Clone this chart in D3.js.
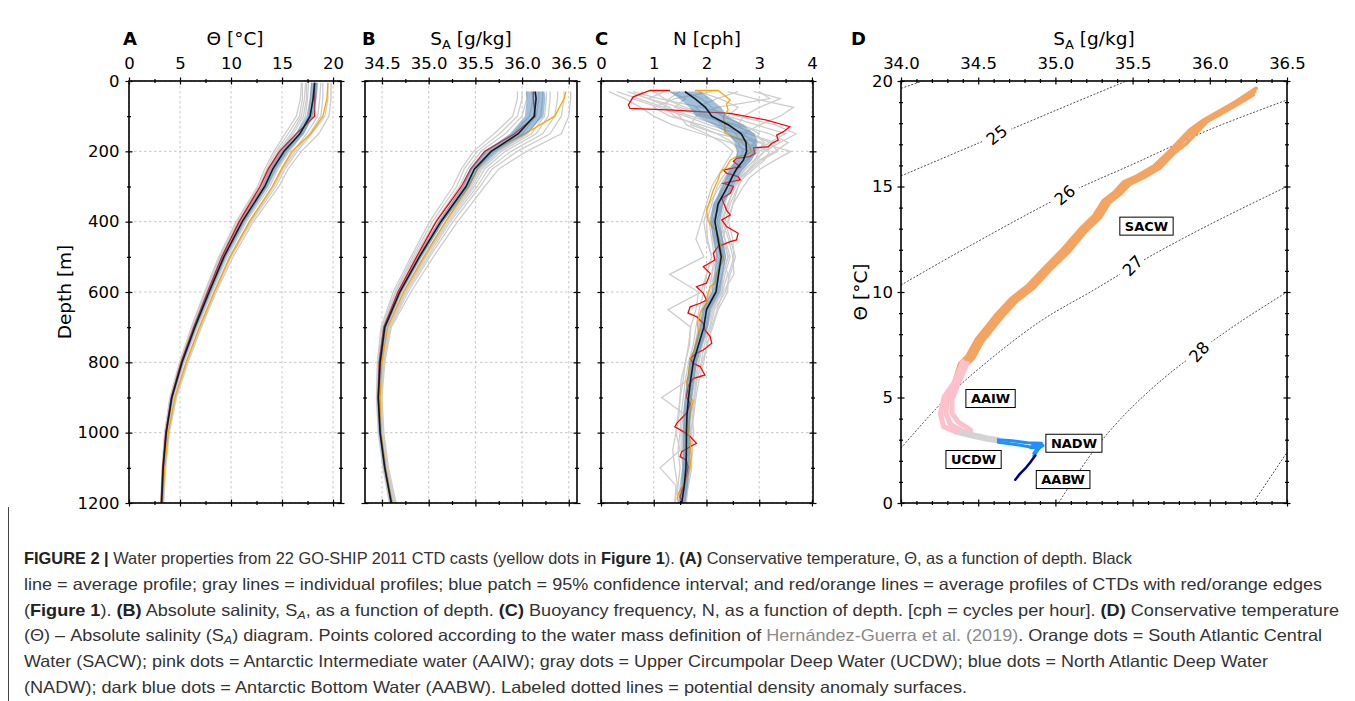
<!DOCTYPE html>
<html>
<head>
<meta charset="utf-8">
<script src="https://cdn.jsdelivr.net/npm/d3@7"></script>
<style>
	body { margin: 0; background: #fff; }
	svg text { font-family: "DejaVu Sans", sans-serif; }
</style>
</head>
<body>
<svg id="figure" width="1355" height="701"></svg>
<script>
// ---------- shared depth ticks ----------
var depthTicks = [0, 200, 400, 600, 800, 1000, 1200];
var depthMinor = [100, 300, 500, 700, 900, 1100];

// ---------- A: conservative temperature [°C] ----------
var thetaTicks = [0, 5, 10, 15, 20];
var thetaMinor = [2.5, 7.5, 12.5, 17.5];
var depthA = [5, 50, 100, 150, 200, 250, 300, 400, 500, 600, 700, 800, 900, 1000, 1100, 1200];
var thetaMean = [18.2, 18.05, 17.75, 16.75, 15.2, 14.1, 13.3, 11.1, 9.3, 7.85, 6.45, 5.2, 4.2, 3.65, 3.35, 3.2];
var thetaCI = [0.35, 0.35, 0.35, 0.4, 0.4, 0.35, 0.3, 0.25, 0.22, 0.2, 0.18, 0.15, 0.12, 0.1, 0.1, 0.1];
var thetaRed = [18.2, 18.2, 18.2, 16.4, 14.75, 13.65, 12.85, 10.8, 9.1, 7.7, 6.35, 5.1, 4.15, 3.6, 3.3, 3.15];
var thetaOrange = [19.5, 19.4, 19.0, 17.8, 15.95, 14.95, 14.05, 11.8, 9.9, 8.35, 6.9, 5.6, 4.5, 3.85, 3.5, 3.3];
var thetaCasts = [
	[16.9, 16.8, 16.4, 15.3, 14.2, 13.3, 12.6, 10.5, 8.8, 7.4, 6.1, 4.95, 4.0, 3.5, 3.25, 3.1],
	[17.3, 17.2, 16.9, 15.9, 14.6, 13.7, 12.9, 10.8, 9.0, 7.6, 6.25, 5.05, 4.1, 3.55, 3.3, 3.15],
	[17.6, 17.5, 17.3, 16.4, 15.0, 13.9, 13.1, 11.0, 9.2, 7.75, 6.35, 5.15, 4.15, 3.6, 3.3, 3.15],
	[17.9, 17.8, 17.6, 16.8, 15.4, 14.3, 13.5, 11.3, 9.45, 8.0, 6.55, 5.3, 4.3, 3.7, 3.4, 3.2],
	[18.4, 18.3, 17.9, 17.1, 15.7, 14.6, 13.8, 11.5, 9.65, 8.15, 6.7, 5.4, 4.35, 3.75, 3.45, 3.25],
	[18.8, 18.7, 18.5, 17.4, 16.1, 15.0, 14.1, 11.8, 9.85, 8.35, 6.9, 5.6, 4.5, 3.8, 3.5, 3.3],
	[19.5, 19.5, 19.2, 17.9, 16.5, 15.3, 14.4, 12.0, 10.0, 8.45, 7.0, 5.7, 4.6, 3.9, 3.55, 3.35],
	[19.8, 19.8, 19.6, 18.6, 16.9, 15.6, 14.7, 12.2, 10.2, 8.55, 7.1, 5.8, 4.65, 3.95, 3.6, 3.4],
	[17.0, 17.0, 16.7, 15.6, 14.4, 13.5, 12.75, 10.65, 8.9, 7.5, 6.2, 5.0, 4.05, 3.5, 3.28, 3.12],
	[18.1, 18.0, 17.8, 17.0, 15.6, 14.5, 13.6, 11.4, 9.5, 8.1, 6.6, 5.35, 4.3, 3.72, 3.42, 3.22],
	[19.0, 19.0, 18.8, 17.7, 16.3, 15.1, 14.2, 11.9, 9.95, 8.4, 6.95, 5.65, 4.55, 3.85, 3.52, 3.32],
	[17.4, 17.4, 17.1, 16.1, 14.8, 13.8, 13.0, 10.9, 9.1, 7.65, 6.3, 5.1, 4.12, 3.58, 3.3, 3.14]
];

// ---------- B: absolute salinity [g/kg] ----------
var saltTicks = [34.5, 35.0, 35.5, 36.0, 36.5];
var saltMinor = [34.75, 35.25, 35.75, 36.25];
var depthB = [30, 50, 100, 150, 200, 250, 300, 400, 500, 600, 700, 800, 900, 1000, 1100, 1200];
var saltMean = [36.14, 36.15, 36.13, 35.96, 35.67, 35.49, 35.40, 35.13, 34.90, 34.69, 34.53, 34.48, 34.46, 34.48, 34.53, 34.60];
var saltCI = [0.1, 0.1, 0.1, 0.09, 0.07, 0.05, 0.04, 0.03, 0.025, 0.02, 0.02, 0.015, 0.015, 0.015, 0.015, 0.015];
var saltRed = [36.12, 36.12, 36.14, 35.92, 35.60, 35.45, 35.35, 35.08, 34.87, 34.67, 34.52, 34.47, 34.46, 34.48, 34.53, 34.60];
var saltOrange = [36.47, 36.45, 36.35, 36.03, 35.66, 35.52, 35.43, 35.18, 34.95, 34.73, 34.56, 34.50, 34.48, 34.49, 34.54, 34.61];
var saltCasts = [
	[35.95, 35.95, 35.90, 35.70, 35.48, 35.35, 35.26, 35.01, 34.81, 34.62, 34.49, 34.45, 34.44, 34.46, 34.51, 34.58],
	[36.05, 36.05, 36.00, 35.82, 35.56, 35.42, 35.33, 35.07, 34.85, 34.65, 34.51, 34.46, 34.45, 34.47, 34.52, 34.59],
	[36.10, 36.12, 36.08, 35.90, 35.62, 35.46, 35.37, 35.11, 34.88, 34.68, 34.52, 34.47, 34.46, 34.48, 34.53, 34.60],
	[36.18, 36.18, 36.15, 36.00, 35.70, 35.52, 35.42, 35.15, 34.92, 34.71, 34.54, 34.49, 34.47, 34.49, 34.54, 34.61],
	[36.22, 36.22, 36.20, 36.06, 35.75, 35.55, 35.45, 35.18, 34.94, 34.73, 34.56, 34.50, 34.47, 34.49, 34.54, 34.62],
	[36.30, 36.30, 36.28, 36.15, 35.82, 35.60, 35.49, 35.21, 34.97, 34.75, 34.57, 34.51, 34.48, 34.50, 34.55, 34.63],
	[36.45, 36.45, 36.42, 36.30, 35.95, 35.68, 35.55, 35.26, 35.01, 34.78, 34.59, 34.52, 34.49, 34.51, 34.56, 34.64],
	[36.52, 36.52, 36.50, 36.42, 36.05, 35.75, 35.60, 35.31, 35.05, 34.81, 34.60, 34.53, 34.50, 34.52, 34.57, 34.65],
	[36.00, 36.00, 35.95, 35.76, 35.52, 35.38, 35.30, 35.04, 34.83, 34.64, 34.50, 34.455, 34.445, 34.465, 34.515, 34.585],
	[36.14, 36.15, 36.12, 35.95, 35.66, 35.49, 35.40, 35.13, 34.90, 34.70, 34.53, 34.48, 34.46, 34.48, 34.535, 34.605],
	[36.38, 36.38, 36.35, 36.22, 35.88, 35.64, 35.52, 35.23, 34.99, 34.76, 34.58, 34.515, 34.485, 34.505, 34.555, 34.635],
	[36.26, 36.26, 36.24, 36.10, 35.78, 35.57, 35.47, 35.19, 34.96, 34.74, 34.56, 34.50, 34.475, 34.495, 34.545, 34.62]
];

// ---------- C: buoyancy frequency [cph] ----------
var nTicks = [0, 1, 2, 3, 4];
var nMinor = [0.5, 1.5, 2.5, 3.5];
var depthN = [30, 50, 75, 100, 125, 150, 175, 200, 225, 250, 275, 300, 350, 400, 450, 500, 550, 600, 650, 700, 750, 800, 850, 900, 950, 1000, 1050, 1100, 1150, 1200];
var nMean = [1.59, 1.78, 1.98, 2.10, 2.42, 2.66, 2.75, 2.76, 2.70, 2.57, 2.48, 2.40, 2.22, 2.16, 2.22, 2.28, 2.23, 2.18, 2.00, 1.95, 1.85, 1.75, 1.70, 1.66, 1.63, 1.62, 1.62, 1.61, 1.58, 1.53];
var nCI = [0.3, 0.3, 0.3, 0.3, 0.28, 0.25, 0.22, 0.18, 0.15, 0.13, 0.12, 0.1, 0.1, 0.09, 0.09, 0.09, 0.08, 0.08, 0.08, 0.08, 0.07, 0.07, 0.07, 0.07, 0.07, 0.07, 0.07, 0.07, 0.07, 0.07];
// [depth, N]
var nRed = [[27, 1.31], [27, 0.93], [45, 0.61], [68, 0.52], [78, 0.55], [83, 1.37], [92, 2.45], [111, 3.14], [130, 3.58], [144, 3.46], [154, 3.33], [168, 3.36], [177, 3.24], [187, 3.17], [190, 2.89], [206, 2.92], [215, 2.82], [220, 2.57], [229, 2.51], [244, 2.64], [253, 2.32], [262, 2.38], [272, 2.60], [281, 2.64], [291, 2.32], [300, 2.51], [319, 2.45], [334, 2.29], [367, 2.38], [381, 2.45], [395, 2.29], [414, 2.38], [433, 2.60], [452, 2.57], [457, 2.45], [471, 2.22], [490, 2.13], [509, 2.16], [528, 1.94], [547, 2.07], [575, 2.00], [585, 1.81], [604, 1.94], [623, 2.00], [632, 1.88], [642, 1.69], [660, 1.65], [670, 1.81], [689, 1.94], [708, 1.97], [727, 2.07], [746, 2.10], [765, 1.94], [774, 1.81], [789, 1.69], [803, 1.75], [812, 1.88], [836, 1.97], [846, 1.75], [869, 1.65], [898, 1.62], [917, 1.69], [945, 1.62], [973, 1.44], [983, 1.40], [997, 1.56], [1011, 1.69], [1030, 1.81], [1040, 1.69], [1054, 1.53], [1068, 1.50], [1078, 1.62], [1097, 1.65], [1125, 1.62], [1154, 1.56], [1182, 1.50], [1196, 1.53]];
var nOrange = [[27, 1.78], [27, 2.22], [35, 2.29], [54, 2.45], [65, 2.38], [82, 2.41], [101, 2.32], [130, 2.35], [149, 2.35], [163, 2.57], [172, 2.76], [187, 2.82], [201, 2.85], [211, 2.76], [215, 2.57], [225, 2.45], [244, 2.38], [262, 2.26], [281, 2.22], [310, 2.13], [338, 2.07], [367, 2.00], [395, 2.03], [414, 2.10], [424, 2.19], [452, 2.25], [490, 2.29], [509, 2.32], [528, 2.25], [547, 2.19], [575, 2.16], [585, 2.07], [604, 2.03], [632, 2.00], [660, 1.88], [689, 1.83], [717, 1.85], [765, 1.77], [789, 1.69], [841, 1.65], [855, 1.62], [898, 1.69], [910, 1.75], [945, 1.69], [1002, 1.65], [1021, 1.69], [1068, 1.71], [1097, 1.69], [1134, 1.62], [1172, 1.47], [1191, 1.44]];
var nCasts = [
	[0.15, 0.45, 0.75, 1.00, 1.35, 1.90, 2.45, 2.80, 2.65, 2.50, 2.35, 2.25, 2.05, 1.95, 2.00, 2.10, 2.00, 1.90, 1.27, 1.70, 1.68, 1.60, 1.52, 1.50, 1.48, 1.42, 1.50, 1.12, 1.42, 1.40],
	[0.80, 0.60, 1.10, 1.60, 2.05, 2.60, 3.05, 3.10, 2.90, 2.75, 2.60, 2.50, 2.30, 2.20, 2.30, 2.42, 2.30, 2.22, 2.05, 2.00, 1.90, 1.82, 1.75, 1.70, 1.66, 1.70, 1.66, 1.60, 1.60, 1.55],
	[1.30, 1.60, 1.40, 1.90, 2.60, 3.20, 3.55, 3.30, 3.00, 2.82, 2.62, 2.52, 2.42, 2.30, 2.42, 2.50, 2.52, 2.32, 2.20, 2.10, 2.02, 1.92, 1.82, 1.76, 1.72, 1.76, 1.70, 1.66, 1.62, 1.60],
	[1.85, 2.25, 2.60, 2.40, 2.95, 3.50, 3.20, 2.90, 2.80, 2.62, 2.50, 2.40, 2.30, 2.10, 2.12, 2.20, 2.10, 2.12, 1.90, 1.86, 1.80, 1.70, 1.66, 1.15, 1.60, 1.55, 1.56, 1.60, 1.55, 1.50],
	[2.40, 2.90, 3.65, 3.40, 3.00, 2.70, 2.90, 3.00, 2.92, 2.72, 2.62, 2.60, 2.50, 2.42, 2.50, 2.52, 2.42, 2.40, 2.22, 2.12, 2.00, 1.95, 1.86, 1.80, 1.76, 1.72, 1.70, 1.72, 1.66, 1.60],
	[1.00, 1.20, 1.60, 2.10, 2.30, 2.40, 2.60, 2.70, 2.60, 2.42, 2.30, 2.20, 2.10, 2.00, 2.02, 2.10, 2.00, 1.95, 1.86, 1.80, 1.75, 1.66, 1.60, 1.56, 1.52, 1.50, 1.46, 1.50, 1.46, 1.45],
	[3.00, 3.20, 2.20, 1.80, 1.70, 2.20, 3.00, 3.60, 3.30, 3.02, 2.82, 2.70, 2.50, 2.40, 2.30, 2.32, 2.40, 2.30, 2.12, 2.06, 1.92, 1.86, 1.80, 1.76, 1.70, 1.66, 1.66, 1.66, 1.60, 1.60],
	[0.50, 0.90, 1.30, 1.50, 1.62, 2.00, 2.30, 2.50, 2.40, 2.30, 2.20, 2.10, 2.00, 1.90, 1.80, 1.95, 1.30, 1.85, 1.80, 1.70, 1.66, 1.60, 1.56, 1.50, 1.46, 1.42, 1.36, 1.40, 1.45, 1.40],
	[1.60, 1.90, 2.10, 2.30, 2.70, 3.00, 2.90, 2.80, 2.70, 2.56, 2.40, 2.30, 2.20, 2.16, 2.20, 2.26, 2.20, 2.16, 1.96, 1.90, 1.80, 1.76, 1.70, 1.66, 1.60, 1.60, 1.60, 1.56, 1.55, 1.50],
	[2.10, 1.40, 1.00, 1.30, 1.90, 2.40, 2.70, 3.20, 3.10, 2.90, 2.70, 2.50, 2.30, 2.26, 2.30, 2.36, 2.30, 2.30, 2.10, 2.00, 1.90, 1.80, 1.76, 1.70, 1.66, 1.66, 1.60, 1.62, 1.60, 1.55],
	[0.30, 0.70, 1.20, 1.70, 2.20, 2.80, 3.30, 3.00, 2.75, 2.60, 2.45, 2.35, 2.15, 2.05, 2.10, 2.15, 2.10, 2.05, 1.90, 1.85, 1.78, 1.72, 1.64, 1.60, 1.56, 1.52, 1.52, 1.55, 1.50, 1.48],
	[1.20, 0.90, 1.50, 2.00, 2.50, 2.90, 3.10, 2.95, 2.85, 2.68, 2.55, 2.45, 2.35, 2.25, 2.35, 2.45, 2.35, 2.28, 2.10, 2.02, 1.92, 1.85, 1.78, 1.72, 1.68, 1.66, 1.68, 1.64, 1.62, 1.58],
	[2.60, 2.20, 1.80, 2.00, 2.40, 2.55, 2.65, 2.90, 2.75, 2.45, 2.35, 2.28, 2.18, 2.08, 2.15, 2.20, 2.15, 2.08, 1.94, 1.88, 1.82, 1.72, 1.68, 1.62, 1.58, 1.58, 1.55, 1.58, 1.55, 1.52],
	[0.60, 1.10, 1.90, 2.60, 3.30, 3.70, 3.40, 3.10, 2.95, 2.80, 2.70, 2.60, 2.45, 2.35, 2.45, 2.55, 2.45, 2.36, 2.15, 2.08, 1.96, 1.90, 1.82, 1.78, 1.74, 1.70, 1.74, 1.70, 1.64, 1.62],
	[1.50, 1.30, 1.20, 1.40, 1.80, 2.20, 2.50, 2.60, 2.55, 2.50, 2.40, 2.30, 2.25, 2.12, 2.18, 2.28, 2.22, 2.20, 2.02, 1.92, 1.86, 1.78, 1.72, 1.68, 1.64, 1.60, 1.58, 1.60, 1.56, 1.52],
	[2.90, 3.40, 3.00, 2.70, 2.60, 2.80, 3.20, 3.35, 3.05, 2.85, 2.65, 2.55, 2.40, 2.28, 2.35, 2.40, 2.32, 2.26, 2.08, 1.98, 1.88, 1.80, 1.74, 1.70, 1.66, 1.62, 1.62, 1.60, 1.58, 1.55]
];

// ---------- D: Θ - SA diagram ----------
var dSaltTicks = [34.0, 34.5, 35.0, 35.5, 36.0, 36.5];
var dThetaTicks = [0, 5, 10, 15, 20];
// density anomaly contours, [SA, Θ]
var sigma24 = [[34.0, 19.65], [34.14, 20.0]];
var sigma25 = [[34.0, 15.5], [34.5, 17.05], [35.0, 18.6], [35.46, 20.0]];
var sigma26 = [[34.0, 10.33], [34.4, 12.0], [35.06, 14.6], [35.5, 16.05], [36.0, 17.7], [36.5, 19.1]];
var sigma27 = [[34.0, 2.6], [34.27, 4.8], [34.51, 6.4], [34.9, 8.6], [35.25, 10.1], [35.5, 11.2], [35.64, 11.8], [36.0, 13.2], [36.5, 15.0]];
var sigma28 = [[35.02, 0], [35.24, 2.4], [35.45, 4.2], [35.7, 5.9], [35.92, 7.15], [36.2, 8.6], [36.5, 10.0]];
var sigma29 = [[36.28, 0], [36.5, 2.4]];
var sigmaLabels = [{text: "25", sa: 34.62, t: 17.45}, {text: "26", sa: 35.06, t: 14.6}, {text: "27", sa: 35.5, t: 11.25}, {text: "28", sa: 35.93, t: 7.17}];

// casts in Θ-SA space, one list of strands per water mass
var sacw = [
	[[36.30, 19.65], [36.17, 19.02], [35.96, 18.15], [35.87, 17.68], [35.75, 16.75], [35.64, 15.98], [35.53, 15.5], [35.44, 15.2], [35.38, 14.72], [35.31, 14.32], [35.25, 13.62], [35.16, 12.98], [35.05, 12.05], [34.92, 11.08], [34.82, 10.3], [34.71, 9.67], [34.62, 8.96], [34.56, 8.4], [34.49, 7.78], [34.43, 6.98], [34.38, 6.6], [34.35, 5.9]],
	[[36.28, 19.34], [36.15, 18.78], [35.98, 18.07], [35.85, 17.05], [35.77, 16.6], [35.68, 15.9], [35.57, 15.42], [35.48, 15.1], [35.42, 14.64], [35.35, 14.24], [35.29, 13.52], [35.20, 12.9], [35.09, 11.93], [34.96, 11.0], [34.86, 10.2], [34.75, 9.57], [34.66, 8.86], [34.60, 8.32], [34.53, 7.68], [34.47, 6.88], [34.42, 6.5]],
	[[36.29, 19.5], [36.16, 18.9], [35.97, 18.1], [35.86, 17.4], [35.76, 16.68], [35.66, 15.94], [35.55, 15.46], [35.46, 15.15], [35.40, 14.68], [35.33, 14.28], [35.27, 13.57], [35.18, 12.94], [35.07, 11.99], [34.94, 11.04], [34.84, 10.25], [34.73, 9.62], [34.64, 8.91], [34.58, 8.36], [34.51, 7.73], [34.45, 6.93], [34.40, 6.54]]
];
var aaiw = [
	[[34.40, 6.70], [34.34, 5.67], [34.28, 5.04], [34.255, 4.25], [34.275, 3.62], [34.36, 3.35], [34.42, 3.30]],
	[[34.43, 6.62], [34.37, 5.67], [34.33, 4.88], [34.33, 4.25], [34.37, 3.85], [34.45, 3.46]],
	[[34.41, 6.6], [34.355, 5.67], [34.30, 4.95], [34.29, 4.25], [34.32, 3.72], [34.40, 3.40], [34.45, 3.38]]
];
var ucdw = [
	[[34.38, 3.42], [34.48, 3.25], [34.56, 3.12], [34.63, 3.05]],
	[[34.38, 3.28], [34.48, 3.10], [34.56, 2.98], [34.63, 2.90]]
];
var nadw = [
	[[34.63, 3.0], [34.72, 2.95], [34.82, 2.86], [34.91, 2.83]],
	[[34.63, 2.88], [34.72, 2.80], [34.82, 2.68], [34.89, 2.58], [34.92, 2.72]],
	[[34.85, 2.72], [34.91, 2.78], [34.88, 2.45], [34.86, 2.24]],
	[[34.84, 2.62], [34.89, 2.64], [34.86, 2.35]]
];
var aabw = [
	[[34.87, 2.25], [34.84, 1.95], [34.81, 1.68], [34.77, 1.38], [34.74, 1.10]]
];
var massLabels = [
	{name: "SACW", sa: 35.59, t: 13.13},
	{name: "AAIW", sa: 34.58, t: 4.96},
	{name: "NADW", sa: 35.12, t: 2.84},
	{name: "UCDW", sa: 34.47, t: 2.07},
	{name: "AABW", sa: 35.05, t: 1.12}
];

// ---------- caption ----------
var captionLines = [
	[["FIGURE 2 | ", "b"], ["Water properties from 22 GO-SHIP 2011 CTD casts (yellow dots in "], ["Figure 1", "b"], ["). "], ["(A)", "b"], [" Conservative temperature, \u0398, as a function of depth. Black"]],
	[["line = average profile; gray lines = individual profiles; blue patch = 95% confidence interval; and red/orange lines = average profiles of CTDs with red/orange edges"]],
	[["("], ["Figure 1", "b"], ["). "], ["(B)", "b"], [" Absolute salinity, S"], ["A", "s"], [", as a function of depth. "], ["(C)", "b"], [" Buoyancy frequency, N, as a function of depth. [cph = cycles per hour]. "], ["(D)", "b"], [" Conservative temperature"]],
	[["(\u0398) \u2013 Absolute salinity (S"], ["A", "s"], [") diagram. Points colored according to the water mass definition of "], ["Hern\u00e1ndez-Guerra et al. (2019)", "l"], [". Orange dots = South Atlantic Central"]],
	[["Water (SACW); pink dots = Antarctic Intermediate water (AAIW); gray dots = Upper Circumpolar Deep Water (UCDW); blue dots = North Atlantic Deep Water"]],
	[["(NADW); dark blue dots = Antarctic Bottom Water (AABW). Labeled dotted lines = potential density anomaly surfaces."]]
];

// ---------- layout ----------
var svg = d3.select("#figure");
var top0 = 81, bottom0 = 503;
var y = d3.scaleLinear().domain([0, 1200]).range([top0, bottom0]);

function drawAxis(orient, scale, pos, values, len, fmt, pad) {
	var horiz = orient == "Top" || orient == "Bottom";
	var g = svg.append("g")
		.attr("transform", horiz ? `translate(0,${pos})` : `translate(${pos},0)`);
	g.call(d3["axis" + orient](scale)
		.tickValues(values)
		.tickSize(len)
		.tickPadding(pad || 0)
		.tickFormat(fmt ? fmt : () => ""));
	g.select(".domain").remove();
	g.attr("font-size", 16.5).attr("font-family", "DejaVu Sans");
	g.selectAll(".tick line").attr("stroke", "#000").attr("stroke-width", 1.2);
	if (horiz) g.selectAll(".tick line").attr("y1", -len).attr("y2", len);
	else g.selectAll(".tick line").attr("x1", -len).attr("x2", len);
	g.selectAll(".tick text").attr("fill", "#000");
	return g;
}

function axisTitle(g, x, yy, main, sub, rest, rotate) {
	var t = g.append("text")
		.attr("font-size", 18.5)
		.attr("text-anchor", "middle")
		.attr("transform", `translate(${x},${yy})` + (rotate ? " rotate(-90)" : ""));
	t.append("tspan").text(main);
	if (sub) t.append("tspan").attr("font-size", 13).attr("baseline-shift", "-4").text(sub);
	if (rest) t.append("tspan").text(rest);
}

function profilePanel(p) {
	var x = d3.scaleLinear().domain(p.domain).range([p.left, p.right]);
	var clip = "clip" + p.letter;
	svg.append("clipPath").attr("id", clip).append("rect")
		.attr("x", p.left).attr("y", top0).attr("width", p.right - p.left).attr("height", bottom0 - top0);

	var grid = svg.append("g")
		.attr("stroke", "#b8b8b8").attr("stroke-width", 0.8).attr("stroke-dasharray", "2.5,2.5");
	grid.selectAll(".gx").data(p.ticks).enter().append("line")
		.attr("x1", d => x(d)).attr("x2", d => x(d)).attr("y1", top0).attr("y2", bottom0);
	grid.selectAll(".gy").data(depthTicks).enter().append("line")
		.attr("x1", p.left).attr("x2", p.right).attr("y1", d => y(d)).attr("y2", d => y(d));

	var body = svg.append("g").attr("clip-path", `url(#${clip})`);
	var line = d3.line().x(d => x(d[1])).y(d => y(d[0]));

	body.selectAll(".cast").data(p.casts).enter().append("path")
		.attr("d", c => line(d3.zip(p.depth, c)))
		.attr("fill", "none").attr("stroke", "#cdcdcd").attr("stroke-width", 1.3);

	body.append("path").attr("d", line(p.red))
		.attr("fill", "none").attr("stroke", "#ff0000").attr("stroke-width", 1.3);
	body.append("path").attr("d", line(p.orange))
		.attr("fill", "none").attr("stroke", "#ffa500").attr("stroke-width", 1.3);

	var band = d3.area().y(d => y(d[0])).x0(d => x(d[1] - d[2])).x1(d => x(d[1] + d[2]));
	body.append("path").attr("d", band(d3.zip(p.depth, p.mean, p.ci)))
		.attr("fill", "#4682b4").attr("opacity", 0.5);
	body.append("path").attr("d", line(d3.zip(p.depth, p.mean)))
		.attr("fill", "none").attr("stroke", "#111a24").attr("stroke-width", 1.6);

	svg.append("rect")
		.attr("x", p.left).attr("y", top0).attr("width", p.right - p.left).attr("height", bottom0 - top0)
		.attr("fill", "none").attr("stroke", "#000").attr("stroke-width", 1.6);

	drawAxis("Top", x, top0, p.ticks, 3.5, p.fmt, 8.5);
	drawAxis("Top", x, top0, p.minor, 2);
	drawAxis("Bottom", x, bottom0, p.ticks, 3.5);
	drawAxis("Bottom", x, bottom0, p.minor, 2);
	drawAxis("Left", y, p.left, depthTicks, 3.5, p.showDepth ? d3.format("d") : null, 6);
	drawAxis("Left", y, p.left, depthMinor, 2);
	drawAxis("Right", y, p.right, depthTicks, 3.5);
	drawAxis("Right", y, p.right, depthMinor, 2);

	svg.append("text").attr("x", p.letterX).attr("y", 45)
		.attr("font-size", 18).attr("font-weight", "bold").text(p.letter);
	axisTitle(svg, (p.left + p.right) / 2, 45, p.title[0], p.title[1], p.title[2]);
	if (p.showDepth) axisTitle(svg, 71, (top0 + bottom0) / 2, "Depth [m]", null, null, true);
}

profilePanel({
	letter: "A", letterX: 123, left: 129, right: 341, domain: [0, 20.78],
	ticks: thetaTicks, minor: thetaMinor, fmt: d3.format("d"), title: ["\u0398 [\u00b0C]"],
	depth: depthA, mean: thetaMean, ci: thetaCI, casts: thetaCasts,
	red: d3.zip(depthA, thetaRed), orange: d3.zip(depthA, thetaOrange), showDepth: true
});
profilePanel({
	letter: "B", letterX: 362, left: 365, right: 577, domain: [34.318, 36.588],
	ticks: saltTicks, minor: saltMinor, fmt: d3.format(".1f"), title: ["S", "A", " [g/kg]"],
	depth: depthB, mean: saltMean, ci: saltCI, casts: saltCasts,
	red: d3.zip(depthB, saltRed), orange: d3.zip(depthB, saltOrange)
});
profilePanel({
	letter: "C", letterX: 595, left: 601, right: 813, domain: [0, 4.02],
	ticks: nTicks, minor: nMinor, fmt: d3.format("d"), title: ["N [cph]"],
	depth: depthN, mean: nMean, ci: nCI, casts: nCasts,
	red: nRed, orange: nOrange
});

// ---------- panel D ----------
var dl = 901, dr = 1287;
var xD = d3.scaleLinear().domain([34, 36.5]).range([dl, dr]);
var yD = d3.scaleLinear().domain([0, 20]).range([bottom0, top0]);

svg.append("clipPath").attr("id", "clipD").append("rect")
	.attr("x", dl).attr("y", top0).attr("width", dr - dl).attr("height", bottom0 - top0);
var gD = svg.append("g").attr("clip-path", "url(#clipD)");

var tsLine = d3.line().x(d => xD(d[0])).y(d => yD(d[1]));
var contourLine = d3.line().x(d => xD(d[0])).y(d => yD(d[1])).curve(d3.curveCatmullRom);

gD.selectAll(".sigma").data([sigma24, sigma25, sigma26, sigma27, sigma28, sigma29]).enter().append("path")
	.attr("d", contourLine)
	.attr("fill", "none").attr("stroke", "#222").attr("stroke-width", 0.8).attr("stroke-dasharray", "2,1.6");

var labelRot = {"25": -38, "26": -39, "27": -45, "28": -48};
gD.selectAll(".slab").data(sigmaLabels).enter().append("text")
	.attr("transform", d => `translate(${xD(d.sa)},${yD(d.t)}) rotate(${labelRot[d.text]})`)
	.attr("text-anchor", "middle").attr("dy", "0.36em")
	.attr("font-size", 16.5)
	.attr("stroke", "#fff").attr("stroke-width", 12).attr("paint-order", "stroke")
	.attr("fill", "#000")
	.text(d => d.text);

var masses = [
	{strands: sacw, color: "#f4a460", width: 3.8},
	{strands: aaiw, color: "#ffc0cb", width: 5},
	{strands: ucdw, color: "#d3d3d3", width: 3.5},
	{strands: nadw, color: "#1e90ff", width: 3},
	{strands: aabw, color: "#00008b", width: 2.5}
];
masses.forEach(m => {
	gD.selectAll(null).data(m.strands).enter().append("path")
		.attr("d", tsLine)
		.attr("fill", "none").attr("stroke", m.color).attr("stroke-width", m.width)
		.attr("stroke-linecap", "round").attr("stroke-linejoin", "round");
});

massLabels.forEach(d => {
	var g = svg.append("g").attr("transform", `translate(${xD(d.sa)},${yD(d.t)})`);
	var rect = g.append("rect");
	var t = g.append("text")
		.attr("text-anchor", "middle").attr("dy", "0.36em")
		.attr("font-size", 13).attr("font-weight", "bold").text(d.name);
	var bb = t.node().getBBox();
	rect.attr("x", bb.x - 5).attr("y", bb.y - 1.5).attr("width", bb.width + 10).attr("height", bb.height + 3)
		.attr("fill", "#fff").attr("stroke", "#000").attr("stroke-width", 1);
});

svg.append("rect")
	.attr("x", dl).attr("y", top0).attr("width", dr - dl).attr("height", bottom0 - top0)
	.attr("fill", "none").attr("stroke", "#000").attr("stroke-width", 1.6);

var dSaltMinor = d3.range(34.1, 36.5, 0.1).filter(v => Math.abs(v * 2 - Math.round(v * 2)) > 1e-6);
var dThetaMinor = d3.range(1, 20, 1).filter(v => v % 5 != 0);
drawAxis("Top", xD, top0, dSaltTicks, 3.5, d3.format(".1f"), 8.5);
drawAxis("Top", xD, top0, dSaltMinor, 2);
drawAxis("Bottom", xD, bottom0, dSaltTicks, 3.5);
drawAxis("Bottom", xD, bottom0, dSaltMinor, 2);
drawAxis("Left", yD, dl, dThetaTicks, 3.5, d3.format("d"), 4.5);
drawAxis("Left", yD, dl, dThetaMinor, 2);
drawAxis("Right", yD, dr, dThetaTicks, 3.5);
drawAxis("Right", yD, dr, dThetaMinor, 2);

svg.append("text").attr("x", 851).attr("y", 45)
	.attr("font-size", 18).attr("font-weight", "bold").text("D");
axisTitle(svg, (dl + dr) / 2, 45, "S", "A", " [g/kg]");
axisTitle(svg, 867, (top0 + bottom0) / 2, "\u0398 [\u00b0C]", null, null, true);

// ---------- caption ----------
var capWidths = [1108, 1298, 1315, 1298, 1244, 943];
svg.append("line").attr("x1", 8.5).attr("x2", 8.5).attr("y1", 507).attr("y2", 701)
	.attr("stroke", "#444").attr("stroke-width", 1);
captionLines.forEach((segs, i) => {
	var t = svg.append("text")
		.attr("x", 24).attr("y", 564 + i * 25.8)
		.attr("font-size", 16.5)
		.attr("fill", "#333")
		.style("font-family", "'Liberation Sans Narrow', 'Liberation Sans', Arial, sans-serif")
		.attr("textLength", capWidths[i]).attr("lengthAdjust", "spacingAndGlyphs");
	segs.forEach(s => {
		var ts = t.append("tspan").text(s[0]);
		if (s[1] == "b") ts.attr("font-weight", "bold").attr("fill", "#222");
		if (s[1] == "l") ts.attr("fill", "#8a8a8a");
		if (s[1] == "s") ts.attr("font-style", "italic").attr("font-size", 11.5).attr("baseline-shift", "-3");
	});
});
</script>
</body>
</html>
